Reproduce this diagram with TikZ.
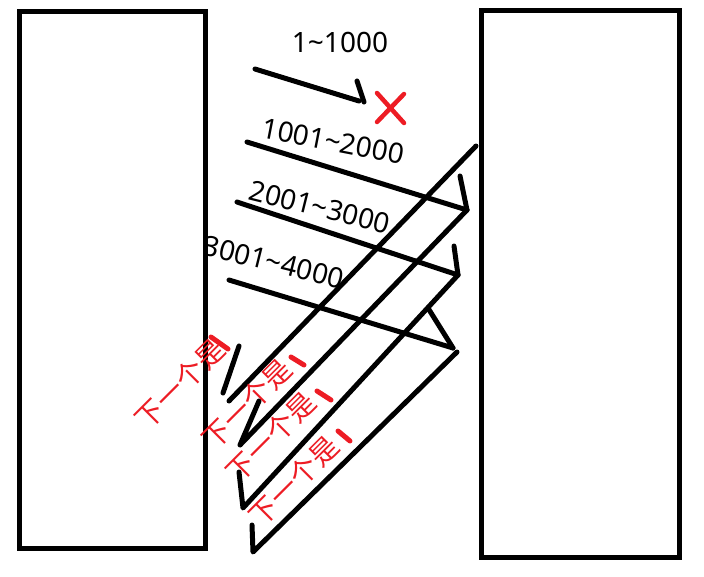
\documentclass[tikz,border=0pt]{standalone}
\usepackage{fontspec}
\setmainfont{Noto Sans}
\newfontfamily\cjk{Noto Sans CJK SC}
\definecolor{pred}{HTML}{ED1C24}
\begin{document}
\begin{tikzpicture}[x=1pt,y=-1pt,
  stroke/.style={line width=5pt,line cap=round,line join=round},
  boxside/.style={draw,line width=5pt,fill=white},
  numlbl/.style={font=\fontsize{28}{28}\selectfont,inner sep=0pt},
  redlbl/.style={font=\cjk\fontsize{28}{28}\selectfont,text=pred,inner sep=0pt,rotate=45},
  reddash/.style={draw=pred,line width=5pt,line cap=round}]
\useasboundingbox (0,0) rectangle (704,576);
% labels on the forward arrows
\node[numlbl] (t1) at (340,42) {1\char"007E 1000};
\node[numlbl,rotate=-11] (t2) at (333,141) {1001\char"007E 2000};
\node[numlbl,rotate=-14] (t3) at (320,207) {2001\char"007E 3000};
\node[numlbl,rotate=-14] (t4) at (274,262) {3001\char"007E 4000};
% boxes
\draw[boxside] (19.5,11.5) rectangle (205,548);
\draw[boxside] (481,10) rectangle (679,557);
% coordinates
\coordinate (a1s) at (255,69);  \coordinate (a1e) at (359,101);
\coordinate (b1s) at (357,81);  \coordinate (b1e) at (364,102);
\coordinate (a2s) at (247,142); \coordinate (a2e) at (467,210);
\coordinate (b2s) at (460,176);
\coordinate (a3s) at (237,202); \coordinate (a3e) at (458,275);
\coordinate (b3s) at (454,246);
\coordinate (a4s) at (229,280); \coordinate (a4e) at (453,348);
\coordinate (b4s) at (428,308);
\coordinate (r1s) at (476,146); \coordinate (r1e) at (229,401);
\coordinate (q1s) at (239,346); \coordinate (q1e) at (223,393);
\coordinate (r2e) at (240,445); \coordinate (q2s) at (259,401);
\coordinate (r3e) at (243,508); \coordinate (q3s) at (239,472);
\coordinate (r4s) at (457,352); \coordinate (r4e) at (253,552);
\coordinate (q4s) at (252,525);
% forward arrows
\draw[stroke] (a1s) -- (a1e);
\draw[stroke] (b1s) -- (b1e);
\draw[stroke] (a2s) -- (a2e);
\draw[stroke] (b2s) -- (a2e);
\draw[stroke] (a3s) -- (a3e);
\draw[stroke] (b3s) -- (a3e);
\draw[stroke] (a4s) -- (a4e);
\draw[stroke] (b4s) -- (a4e);
% return arrows
\draw[stroke] (r1s) -- (r1e);
\draw[stroke] (q1s) -- (q1e);
\draw[stroke] (a2e) -- (r2e) -- (q2s);
\draw[stroke] (a3e) -- (r3e) -- (q3s);
\draw[stroke] (r4s) -- (r4e) -- (q4s);
% red cross
\draw[reddash,line width=4.5pt] (377,93) -- (404,123);
\draw[reddash,line width=4.5pt] (404,94) -- (377,122);
% red labels
\node[redlbl] (n1) at (180,384) {下一个是};
\node[redlbl] (n2) at (247,404) {下一个是};
\node[redlbl] (n3) at (271,437) {下一个是};
\node[redlbl] (n4) at (294,481) {下一个是};
\draw[reddash] (211,337) -- (228,349);
\draw[reddash] (291,357) -- (304,365);
\draw[reddash] (317,391) -- (331,400);
\draw[reddash] (338,431) -- (350,441);
\end{tikzpicture}
\end{document}
